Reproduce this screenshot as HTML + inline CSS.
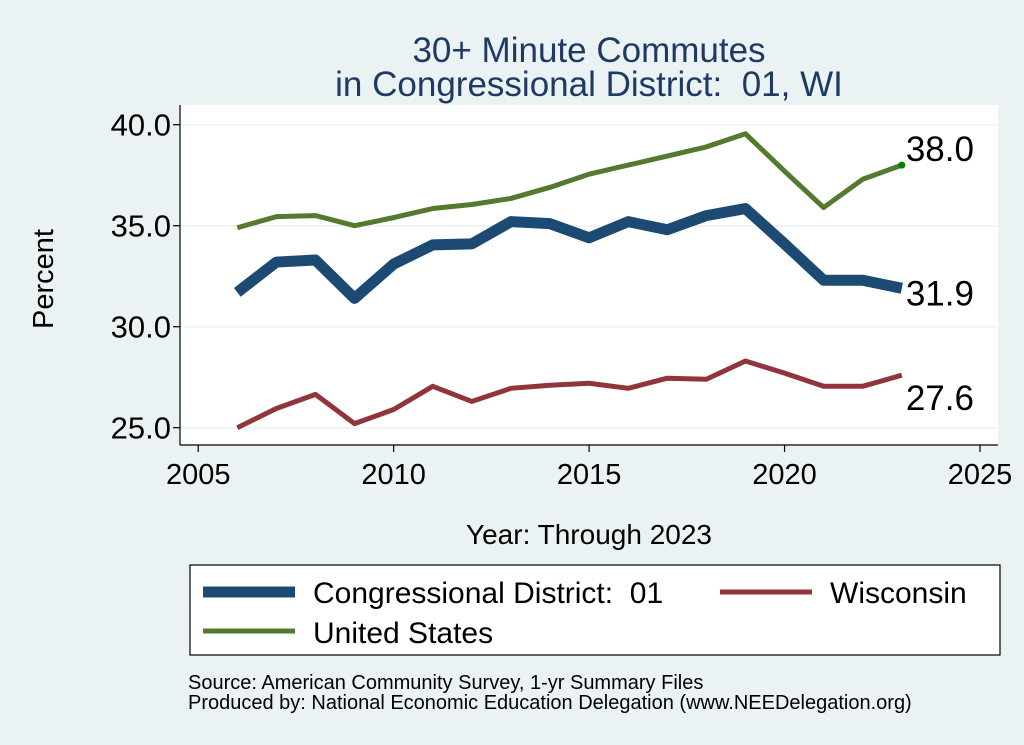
<!DOCTYPE html>
<html><head><meta charset="utf-8"><style>
body{margin:0;background:#eaf2f3;}
svg{display:block;font-family:"Liberation Sans",Arial,sans-serif;}
text{white-space:pre;}
</style></head><body>
<svg id="chart" width="1024" height="745">
<rect x="0" y="0" width="1024" height="745" fill="#eaf2f3"/>
<text x="589" y="62" font-size="35" fill="#1e3a63" text-anchor="middle">30+ Minute Commutes</text>
<text x="589" y="96" font-size="35" fill="#1e3a63" text-anchor="middle">in Congressional District:  01, WI</text>
<rect x="180" y="105" width="818" height="340" fill="#fff"/>
<g id="grid"></g><g id="axes"></g><g id="series"></g>
<text transform="translate(53,279) rotate(-90)" font-size="29" text-anchor="middle">Percent</text>
<text x="589" y="544" font-size="28" text-anchor="middle">Year: Through 2023</text>
<g>
<rect x="190" y="565" width="810" height="90" fill="#fff" stroke="#000" stroke-width="1.2"/>
<line x1="203" y1="592" x2="295" y2="592" stroke="#1c4a73" stroke-width="11"/>
<text x="313" y="603" font-size="30">Congressional District:  01</text>
<line x1="720" y1="592" x2="812" y2="592" stroke="#90353b" stroke-width="5"/>
<text x="830" y="603" font-size="30">Wisconsin</text>
<line x1="203" y1="631" x2="295" y2="631" stroke="#55792e" stroke-width="5"/>
<text x="313" y="643" font-size="30">United States</text>
</g>
<text x="188" y="689" font-size="20">Source: American Community Survey, 1-yr Summary Files</text>
<text x="188" y="709" font-size="20">Produced by: National Economic Education Delegation (www.NEEDelegation.org)</text>
</svg>
<script>
const years=[2006,2007,2008,2009,2010,2011,2012,2013,2014,2015,2016,2017,2018,2019,2020,2021,2022,2023];
const usVals=[34.9,35.45,35.5,35.0,35.4,35.85,36.05,36.35,36.9,37.55,38.0,38.45,38.9,39.55,37.7,35.9,37.3,38.0];
const cdVals=[31.7,33.2,33.3,31.4,33.1,34.05,34.1,35.2,35.1,34.4,35.2,34.8,35.5,35.85,34.1,32.3,32.3,31.9];
const wiVals=[25.0,25.95,26.65,25.2,25.9,27.05,26.3,26.95,27.1,27.2,26.95,27.45,27.4,28.3,27.7,27.05,27.05,27.6];
const xTicks=[2005,2010,2015,2020,2025];
const yTicks=[25,30,35,40];
const yTickLabels=["25.0","30.0","35.0","40.0"];
const NS="http://www.w3.org/2000/svg";
function xs(v){return 198.2+(v-2005)*39.09;}
function ys(v){return 427.7-(v-25)*20.2;}
function mk(t,a,p){const e=document.createElementNS(NS,t);for(const k in a)e.setAttribute(k,a[k]);p.appendChild(e);return e;}
const grid=document.getElementById('grid'),axes=document.getElementById('axes'),ser=document.getElementById('series');
yTicks.forEach((v,i)=>{
 const g=mk('line',{x1:180,x2:998,y1:ys(v),y2:ys(v),stroke:'#eaf2f3','stroke-width':1.5},grid);
 
 
 const t=mk('line',{x1:173,x2:180,y1:ys(v),y2:ys(v),stroke:'#000','stroke-width':1.2},axes);
 
 
 const l=mk('text',{x:171,y:ys(v)+11,'font-size':31,'text-anchor':'end'},axes);
 l.textContent=yTickLabels[i];
 
 
});
xTicks.forEach(v=>{
 const t=mk('line',{x1:xs(v),x2:xs(v),y1:445,y2:452,stroke:'#000','stroke-width':1.2},axes);
 
 
 const l=mk('text',{x:xs(v),y:484,'font-size':29,'text-anchor':'middle'},axes);
 l.textContent=v;
 
 
});
const ya=mk('line',{x1:180,x2:180,y1:105,y2:445,stroke:'#000','stroke-width':1.2},axes);


const xa=mk('line',{x1:180,x2:998,y1:445,y2:445,stroke:'#000','stroke-width':1.2},axes);


function line(vals,color,w,name){
 const p=mk('polyline',{points:vals.map((v,i)=>xs(years[i])+','+ys(v)).join(' '),fill:'none',stroke:color,'stroke-width':w,'stroke-linejoin':'round'},ser);
 
 
}
line(wiVals,'#90353b',5,'wisconsin-line');
line(usVals,'#55792e',5,'us-line');
line(cdVals,'#1c4a73',11,'district-line');
const n=years.length-1;
const dot=mk('circle',{cx:xs(years[n]),cy:ys(usVals[n]),r:3.5,fill:'#008000'},ser);


[[usVals,-4,'us-end-label'],[cdVals,17,'district-end-label'],[wiVals,35,'wisconsin-end-label']].forEach(([vals,dy,name])=>{
 const t=mk('text',{x:xs(years[n])+4,y:ys(vals[n])+dy,'font-size':35},ser);
 t.textContent=vals[n].toFixed(1);
 
 
});
</script>
</body></html>
